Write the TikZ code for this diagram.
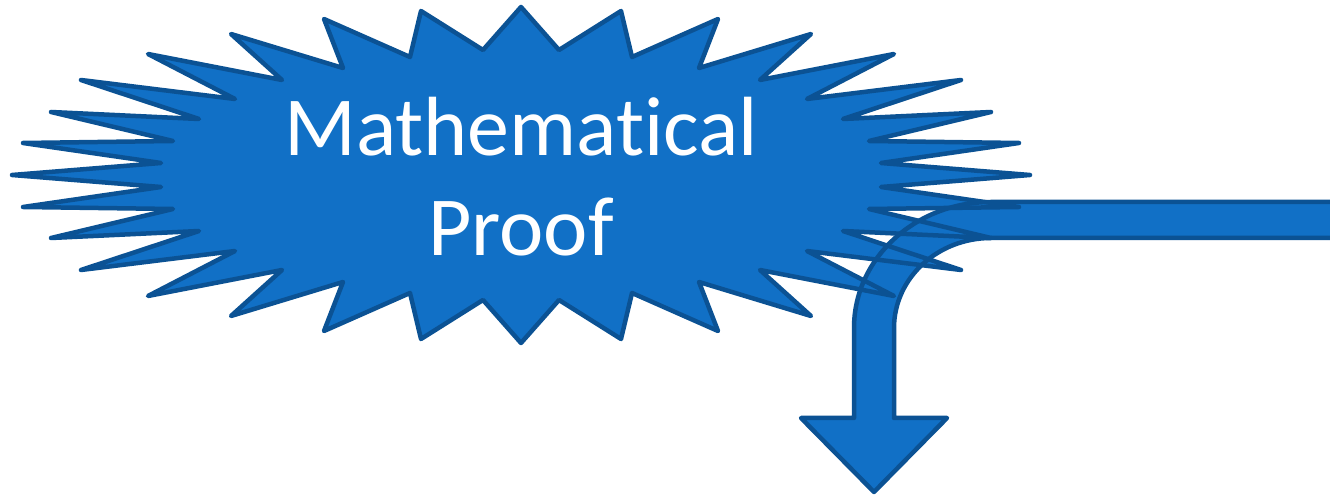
\documentclass[tikz,border=0pt]{standalone}
\usepackage{fontspec}
\setmainfont{Carlito}[RawFeature=-liga]
\definecolor{burstfill}{RGB}{17,112,198}
\definecolor{burstline}{RGB}{11,82,148}
\begin{document}
\begin{tikzpicture}[x=1pt,y=1pt,
  shapefill/.style={fill=burstfill},
  shapeline/.style={draw=burstline,line width=4.5pt,line join=round},
  label/.style={text=white,align=center,inner sep=0pt,font=\fontsize{84}{100}\selectfont}]
\useasboundingbox (0,0) rectangle (1330,495);
\clip (0,0) rectangle (1330,495);
% arrow path
\def\arrowpath{(1345,293) -- (991,293) arc[start angle=90,end angle=180,x radius=137,y radius=126]
  -- (854,77) -- (801,77) -- (874,3) -- (947,77) -- (894,77) -- (894,167)
  arc[start angle=180,end angle=90,x radius=97,y radius=90] -- (1345,257) -- cycle}
\def\burstpath{(521,488) -- (483,445) -- (421,484) -- (410,438) -- (324,476) -- (343,427)
  -- (231,461) -- (282,415) -- (148,441) -- (235,396) -- (81,415) -- (199,376)
  -- (51,383) -- (173,354) -- (23,352) -- (161,332) -- (12,320)
  -- (161,308) -- (23,288) -- (173,286) -- (51,257) -- (199,264) -- (81,225)
  -- (235,244) -- (148,199) -- (282,225) -- (231,179) -- (343,213) -- (324,164)
  -- (410,202) -- (421,156) -- (483,195) -- (521,152)
  -- (559,195) -- (621,156) -- (632,202) -- (718,164) -- (699,213) -- (811,179)
  -- (760,225) -- (894,199) -- (807,244) -- (961,225) -- (843,264) -- (991,257)
  -- (869,286) -- (1019,288) -- (881,308) -- (1030,320)
  -- (881,332) -- (1019,352) -- (869,354) -- (991,383) -- (843,376) -- (961,415)
  -- (807,396) -- (894,441) -- (760,415) -- (811,461) -- (699,427) -- (718,476)
  -- (632,438) -- (621,484) -- (559,445) -- cycle}
\fill[shapefill] \arrowpath;
\fill[shapefill] \burstpath;
\draw[shapeline] \burstpath;
\draw[shapeline] \arrowpath;
\node[label] (title) at (521,318) {Mathematical\\Proof};
\end{tikzpicture}
\end{document}
